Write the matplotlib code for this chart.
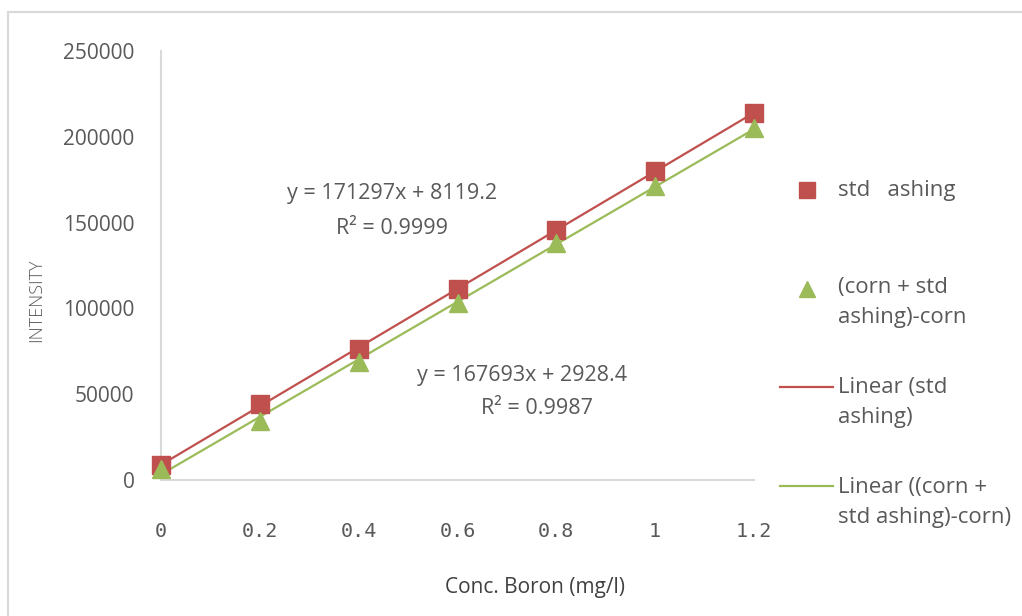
import numpy as np
import matplotlib.pyplot as plt
from matplotlib.lines import Line2D
from matplotlib.patches import Rectangle

# data
conc = [0, 0.2, 0.4, 0.6, 0.8, 1.0, 1.2]
std_ashing = [8500, 44000, 76500, 111500, 145500, 180000, 214000]
corn_std = [6500, 34500, 68500, 103000, 138000, 171500, 205000]
x_ticks = [0, 0.2, 0.4, 0.6, 0.8, 1, 1.2]
x_tick_labels = ["0", "0.2", "0.4", "0.6", "0.8", "1", "1.2"]
y_ticks = [0, 50000, 100000, 150000, 200000, 250000]
eq_std = ["y = 171297x + 8119.2", "R² = 0.9999"]
eq_corn = ["y = 167693x + 2928.4", "R² = 0.9987"]

RED = "#C0504D"
GREEN = "#9BBB59"
GREY = "#595959"
AXIS = "#D9D9D9"

plt.rcParams["font.family"] = ["Open Sans", "DejaVu Sans"]

W, H = 1022, 616
fig = plt.figure(figsize=(W / 100, H / 100), dpi=100)
ax = fig.add_axes([161 / W, 1 - 480 / H, (754 - 161) / W, (480 - 51) / H])

# trend lines
xs = np.array([min(conc), max(conc)])
k1, b1 = np.polyfit(conc, std_ashing, 1)
k2, b2 = np.polyfit(conc, corn_std, 1)
ax.plot(xs, k1 * xs + b1, color=RED, lw=1.6, zorder=2)
ax.plot(xs, k2 * xs + b2, color=GREEN, lw=1.6, zorder=2)

# points
ax.plot(conc, std_ashing, "s", color=RED, ms=12.5, zorder=3, clip_on=False)
ax.plot(conc, corn_std, "^", color=GREEN, ms=12.5, zorder=4, clip_on=False)

ax.set_xlim(0, 1.2)
ax.set_ylim(0, 250000)
ax.set_xticks(x_ticks)
ax.set_xticklabels(x_tick_labels, family="DejaVu Sans Mono", fontsize=14.5, color=GREY)
ax.set_yticks(y_ticks)
ax.set_yticklabels([str(v) for v in y_ticks], fontsize=15, color=GREY)
ax.tick_params(axis="both", length=0)
ax.tick_params(axis="x", pad=30)
ax.tick_params(axis="y", pad=19)
for s in ["top", "right"]:
    ax.spines[s].set_visible(False)
for s in ["left", "bottom"]:
    ax.spines[s].set_color(AXIS)
    ax.spines[s].set_linewidth(1.5)

# axis titles
fig.text(36 / W, 1 - 300 / H, "INTENSITY", rotation=90, ha="center", va="center",
         fontsize=13, fontweight="light", color=GREY)
fig.text(535 / W, 1 - 587 / H, "Conc. Boron (mg/l)", ha="center", va="center",
         fontsize=15, color="#404040")

# equations
fig.text(392 / W, 1 - 193 / H, eq_std[0], ha="center", va="center", fontsize=15.5, color=GREY)
fig.text(392 / W, 1 - 228 / H, eq_std[1], ha="center", va="center", fontsize=15.5, color=GREY)
fig.text(522 / W, 1 - 375 / H, eq_corn[0], ha="center", va="center", fontsize=15.5, color=GREY)
fig.text(537 / W, 1 - 409 / H, eq_corn[1], ha="center", va="center", fontsize=15.5, color=GREY)

# legend drawn by hand, Excel style
def fx(px):
    return px / W

def fy(py):
    return 1 - py / H

fig.add_artist(Line2D([fx(807)], [fy(190)], marker="s", color=RED, ms=11, ls="none"))
fig.add_artist(Line2D([fx(807)], [fy(289)], marker="^", color=GREEN, ms=11, ls="none"))
fig.add_artist(Line2D([fx(780), fx(833)], [fy(387), fy(387)], color=RED, lw=1.6))
fig.add_artist(Line2D([fx(780), fx(833)], [fy(486), fy(486)], color=GREEN, lw=1.6))
legend_lines = [
    ("std   ashing", 190),
    ("(corn + std", 288), ("ashing)-corn", 318),
    ("Linear (std", 388), ("ashing)", 418),
    ("Linear ((corn +", 488), ("std ashing)-corn)", 518),
]
for txt, py in legend_lines:
    fig.text(fx(838), fy(py), txt, ha="left", va="center", fontsize=16, color=GREY)

# chart area border
fig.add_artist(Rectangle((fx(8), -0.1), 1.2, fy(12) + 0.1, fill=False,
                         edgecolor=AXIS, lw=1.5, transform=fig.transFigure))

fig.savefig("out.png", dpi=100)
